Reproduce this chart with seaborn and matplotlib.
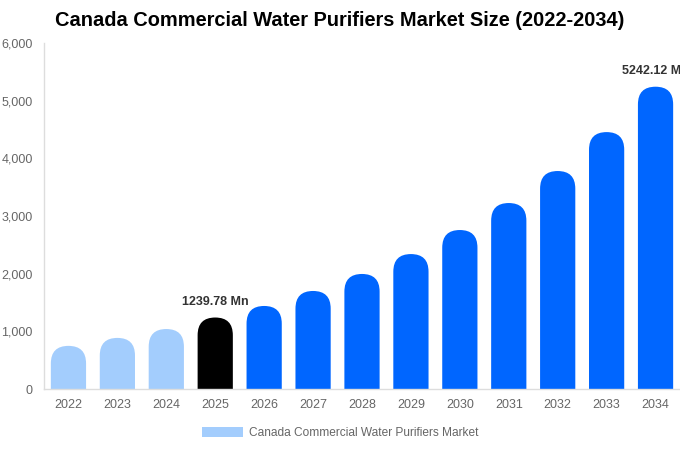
import matplotlib
matplotlib.use("Agg")
import matplotlib.pyplot as plt
from matplotlib.patches import FancyBboxPatch, Patch
import seaborn as sns
import pandas as pd

years = ["2022", "2023", "2024", "2025", "2026", "2027", "2028", "2029",
         "2030", "2031", "2032", "2033", "2034"]
values = [748, 886, 1040, 1239.78, 1440, 1700, 1995, 2340, 2757, 3225,
          3780, 4455, 5242.12]
bar_colors = ["#a3cdfd", "#a3cdfd", "#a3cdfd", "#000000"] + ["#0066ff"] * 9
labels = {3: "1239.78 Mn", 12: "5242.12 Mn"}
series_name = "Canada Commercial Water Purifiers Market"
title = "Canada Commercial Water Purifiers Market Size (2022-2034)"

sns.set_theme(style="white")
plt.rcParams["font.family"] = ["Liberation Sans", "DejaVu Sans"]

df = pd.DataFrame({"year": years, "value": values})

fig = plt.figure(figsize=(6.8, 4.5), dpi=100)
ax = fig.add_axes([44 / 680, 1 - 389 / 450, 636 / 680, 346 / 450])

sns.barplot(data=df, x="year", y="value", hue="year", palette=bar_colors,
            width=0.72, legend=False, ax=ax, saturation=1)

ax.set_xlim(-0.5, 12.5)
ax.set_ylim(0, 6000)
ax.set_yticks([0, 1000, 2000, 3000, 4000, 5000, 6000])
ax.set_yticklabels([f"{v:,}" for v in [0, 1000, 2000, 3000, 4000, 5000, 6000]])
ax.set_xlabel("")
ax.set_ylabel("")
ax.tick_params(axis="both", length=0, labelsize=9, colors="#666666")
ax.tick_params(axis="x", pad=7)
ax.tick_params(axis="y", pad=8)
for s in ["top", "right"]:
    ax.spines[s].set_visible(False)
for s in ["left", "bottom"]:
    ax.spines[s].set_color("#dddddd")
    ax.spines[s].set_linewidth(1)
ax.grid(False)

# Replace bars with rounded-top versions
fig.canvas.draw()
x_per_px = 13 / 636
y_per_px = 6000 / 346
aspect = y_per_px / x_per_px
patches = list(ax.patches)
for p in patches:
    x, w, h = p.get_x(), p.get_width(), p.get_height()
    fc = p.get_facecolor()
    p.remove()
    r = w / 2
    ry = r * aspect
    fb = FancyBboxPatch((x, -ry), w, h + ry,
                        boxstyle=f"round,pad=0,rounding_size={r}",
                        mutation_aspect=aspect, facecolor=fc,
                        edgecolor="none", clip_on=True, zorder=2)
    ax.add_patch(fb)

for i, txt in labels.items():
    ax.annotate(txt, (i, values[i]), xytext=(0, 7), textcoords="offset points",
                ha="center", va="bottom", fontsize=9, fontweight="bold",
                color="#333333", annotation_clip=False)

fig.suptitle(title, x=340 / 680, y=1 - 21 / 450, va="center",
             fontsize=14.4, fontweight="bold", color="#000000")

handle = Patch(facecolor="#a3cdfd", edgecolor="none")
fig.legend([handle], [series_name], loc="center", bbox_to_anchor=(340 / 680, 1 - 433 / 450),
           frameon=False, fontsize=8.6, handlelength=3.4, handleheight=0.95,
           labelcolor="#666666", handletextpad=0.5)

fig.savefig("out.png", dpi=100)
